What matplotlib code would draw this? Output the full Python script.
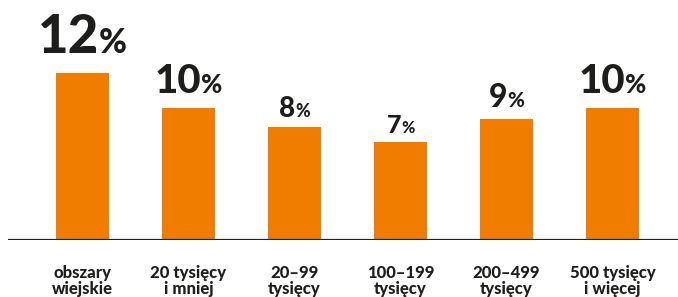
import matplotlib
matplotlib.use("Agg")
import matplotlib.pyplot as plt

# --- data ---
categories = ["obszary\nwiejskie", "20 tysięcy\ni mniej", "20–99\ntysięcy",
              "100–199\ntysięcy", "200–499\ntysięcy", "500 tysięcy\ni więcej"]
values = [12.0, 9.5, 8.1, 7.05, 8.7, 9.5]
value_labels = ["12", "10", "8", "7", "9", "10"]

# --- style ---
BAR_COLOR = "#F07D00"
TEXT_COLOR = "#1d1d1b"
label_sizes = [38, 29, 20, 18, 23, 29]   # pt, digits of the value label
FONT = ["Lato", "DejaVu Sans"]

plt.rcParams['font.family'] = FONT

fig = plt.figure(figsize=(6.78, 2.97), dpi=100)
ax = fig.add_axes([8 / 678, 1 - 240 / 297, 670 / 678, 240 / 297])

x = list(range(len(values)))
ax.bar(x, values, width=0.5, color=BAR_COLOR, zorder=2)
ax.axhline(0, color="#222222", lw=1.6, zorder=3)

ax.set_xlim(-0.703, 5.618)
ax.set_ylim(0, 17.27)
for s in ax.spines.values():
    s.set_visible(False)
ax.set_yticks([])
ax.set_xticks(x)
ax.set_xticklabels(categories, fontsize=12, fontweight="black", color=TEXT_COLOR,
                   linespacing=1.0)
ax.tick_params(axis="x", length=0, pad=18)

# value labels: big number + smaller percent sign, centred together
pairs = []
for i, (v, lab, fs) in enumerate(zip(values, value_labels, label_sizes)):
    gap = 0.52 * fs
    t_num = ax.annotate(lab, xy=(i, v), xytext=(0, gap), textcoords="offset pixels",
                        ha="left", va="baseline", fontsize=fs, fontweight="black",
                        color=TEXT_COLOR)
    t_pct = ax.annotate("%", xy=(i, v), xytext=(0, gap), textcoords="offset pixels",
                        ha="left", va="baseline", fontsize=fs * 0.64, fontweight="black",
                        color=TEXT_COLOR)
    pairs.append((t_num, t_pct, gap))

fig.canvas.draw()
r = fig.canvas.get_renderer()
for t_num, t_pct, gap in pairs:
    w1 = t_num.get_window_extent(r).width
    w2 = t_pct.get_window_extent(r).width
    left = -(w1 + w2) / 2
    t_num.xyann = (left, gap)
    t_pct.xyann = (left + w1, gap)

fig.savefig("out.png", dpi=100)
